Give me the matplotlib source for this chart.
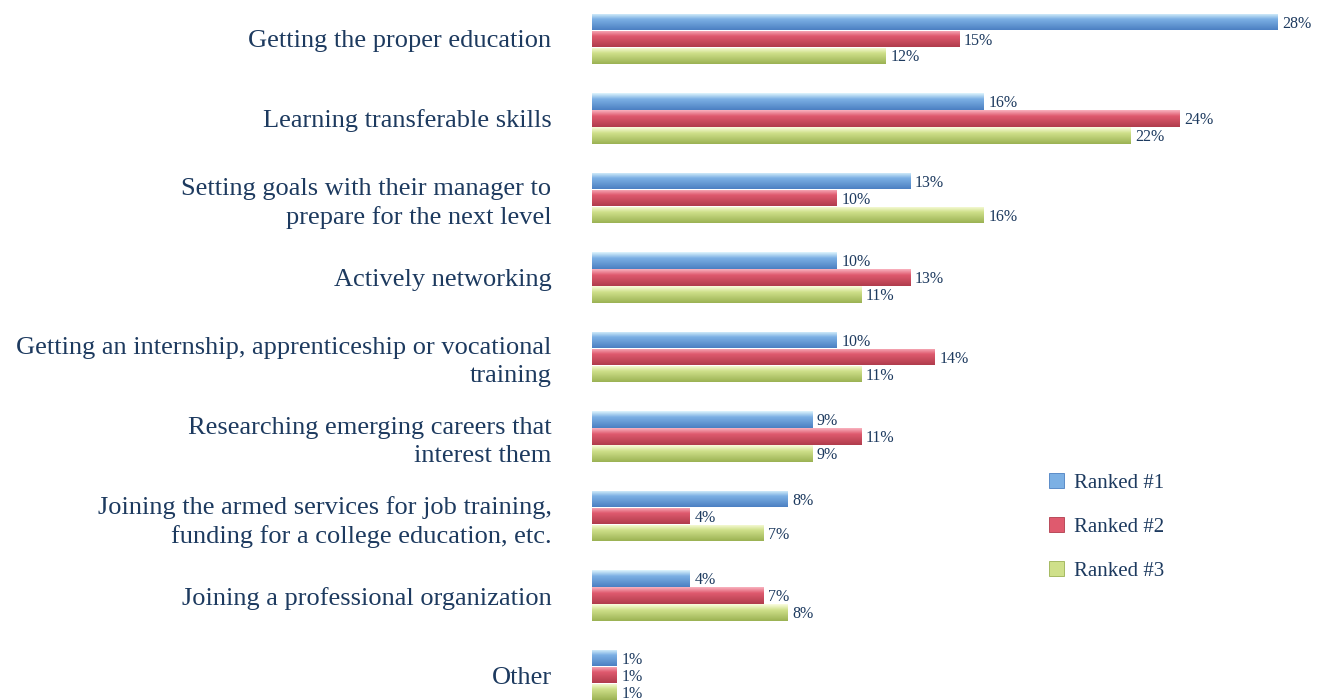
import numpy as np
import matplotlib
matplotlib.use("Agg")
import matplotlib.pyplot as plt
from matplotlib.patches import Patch
from matplotlib.colors import to_rgb

categories = [
    "Getting the proper education",
    "Learning transferable skills",
    "Setting goals with their manager to\nprepare for the next level",
    "Actively networking",
    "Getting an internship, apprenticeship or vocational\ntraining",
    "Researching emerging careers that\ninterest them",
    "Joining the armed services for job training,\nfunding for a college education, etc.",
    "Joining a professional organization",
    "Other",
]
ranked1 = [28, 16, 13, 10, 10, 9, 8, 4, 1]
ranked2 = [15, 24, 10, 13, 14, 11, 4, 7, 1]
ranked3 = [12, 22, 16, 11, 11, 9, 7, 8, 1]
series_names = ["Ranked #1", "Ranked #2", "Ranked #3"]

# top highlight, body, bottom shade for each series
palettes = [
    ("#dff5fd", "#7cb0e4", "#4c80c2"),
    ("#f9b3bf", "#df5a6e", "#b03c4c"),
    ("#fbfde0", "#cfe08a", "#9bb253"),
]
text_col = "#1d3a5f"

plt.rcParams["font.family"] = ["Liberation Serif", "DejaVu Serif"]

fig = plt.figure(figsize=(13.18, 7.0), dpi=100)
ax = fig.add_axes([0.449, 0.0, 0.551, 1.0])

y = np.arange(len(categories))
h = 0.208
offsets = [-h - 0.005, 0.0, h + 0.005]


def gradient_img(pal):
    top, mid, bot = [np.array(to_rgb(c)) for c in pal]
    t = np.linspace(0, 1, 64)[:, None]
    img = np.where(t < 0.35,
                   top + (mid - top) * (t / 0.35),
                   mid + (bot - mid) * ((t - 0.35) / 0.65))
    return img[:, None, :]


for vals, off, pal in zip([ranked1, ranked2, ranked3], offsets, palettes):
    bars = ax.barh(y + off, vals, height=h, color=pal[1], edgecolor="none")
    img = gradient_img(pal)
    for b, v in zip(bars, vals):
        x0, y0 = b.get_x(), b.get_y()
        w, hh = b.get_width(), b.get_height()
        im = ax.imshow(img, extent=[x0, x0 + w, y0 + hh, y0], aspect="auto",
                       interpolation="bilinear", zorder=2)
        im.set_clip_path(b)
        ax.text(x0 + w + 0.2, y0 + hh / 2 + 0.02, f"{v}%", va="center", ha="left",
                fontsize=11.5, color=text_col, zorder=3)

ax.set_xlim(0, 29.68)
ax.set_ylim(8.314, -0.49)
ax.set_yticks(y)
ax.set_yticklabels(categories, fontsize=19, color=text_col, linespacing=1.35)
ax.tick_params(axis="y", length=0, pad=29)
ax.set_xticks([])
for s in ax.spines.values():
    s.set_visible(False)

handles = [Patch(facecolor=p[1], edgecolor=p[2], linewidth=0.6) for p in palettes]
fig.legend(handles, series_names, loc="upper left", bbox_to_anchor=(0.782, 0.351),
           frameon=False, fontsize=15, labelcolor=text_col, handlelength=0.7,
           handleheight=0.7, handletextpad=0.5, labelspacing=1.17)

fig.savefig("out.png", dpi=100)
